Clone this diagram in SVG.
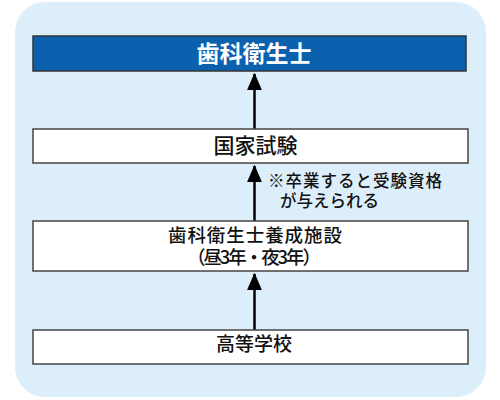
<svg xmlns="http://www.w3.org/2000/svg" width="500" height="400" viewBox="0 0 500 400">
<defs>
<style>
.box{fill:#ffffff;stroke:#444444;stroke-width:1.5}
.top{fill:#0b61ae;stroke:#333333;stroke-width:1.5}
.t{font-family:"Noto Sans CJK JP","Noto Sans",sans-serif;fill:#111111;text-anchor:middle;font-weight:500}
.n{font-family:"Noto Sans CJK JP","Noto Sans",sans-serif;fill:#111111;font-weight:500;font-size:16.5px}
.conn{stroke:#000000;stroke-width:2.5;fill:none}
</style>
<marker id="ah" markerWidth="7" markerHeight="6" refX="6.5" refY="3" orient="auto" markerUnits="strokeWidth">
<path d="M0,0 L7,3 L0,6 Z" fill="#000000"/>
</marker>
</defs>
<rect x="15" y="2" width="471" height="395" rx="30" ry="30" fill="#ddeefb"/>
<g id="connectors">
<line class="conn" x1="254.5" y1="129" x2="254.5" y2="74" marker-end="url(#ah)"/>
<line class="conn" x1="254.5" y1="221" x2="254.5" y2="166" marker-end="url(#ah)"/>
<line class="conn" x1="254.5" y1="330" x2="254.5" y2="274" marker-end="url(#ah)"/>
</g>
<g id="node-dh">
<rect class="top" x="33" y="36" width="433" height="35"/>
<text class="t" x="254" y="62" font-size="23" style="fill:#ffffff;font-weight:bold">歯科衛生士</text>
</g>
<g id="node-exam">
<rect class="box" x="33" y="129" width="435" height="34"/>
<text class="t" x="255.5" y="153" font-size="21">国家試験</text>
</g>
<g id="note">
<text class="n" x="268" y="186.5" textLength="174" lengthAdjust="spacing">※卒業すると受験資格</text>
<text class="n" x="280" y="206.5">が与えられる</text>
</g>
<g id="node-school">
<rect class="box" x="33" y="221" width="435" height="50"/>
<text class="t" x="255" y="241.5" font-size="18.5" textLength="174" lengthAdjust="spacing">歯科衛生士養成施設</text>
<text class="t" x="254" y="263.5" font-size="18.5" textLength="134" lengthAdjust="spacing">（昼3年・夜3年）</text>
</g>
<g id="node-hs">
<rect class="box" x="33" y="330" width="435" height="34"/>
<text class="t" x="254" y="351" font-size="19">高等学校</text>
</g>
</svg>
